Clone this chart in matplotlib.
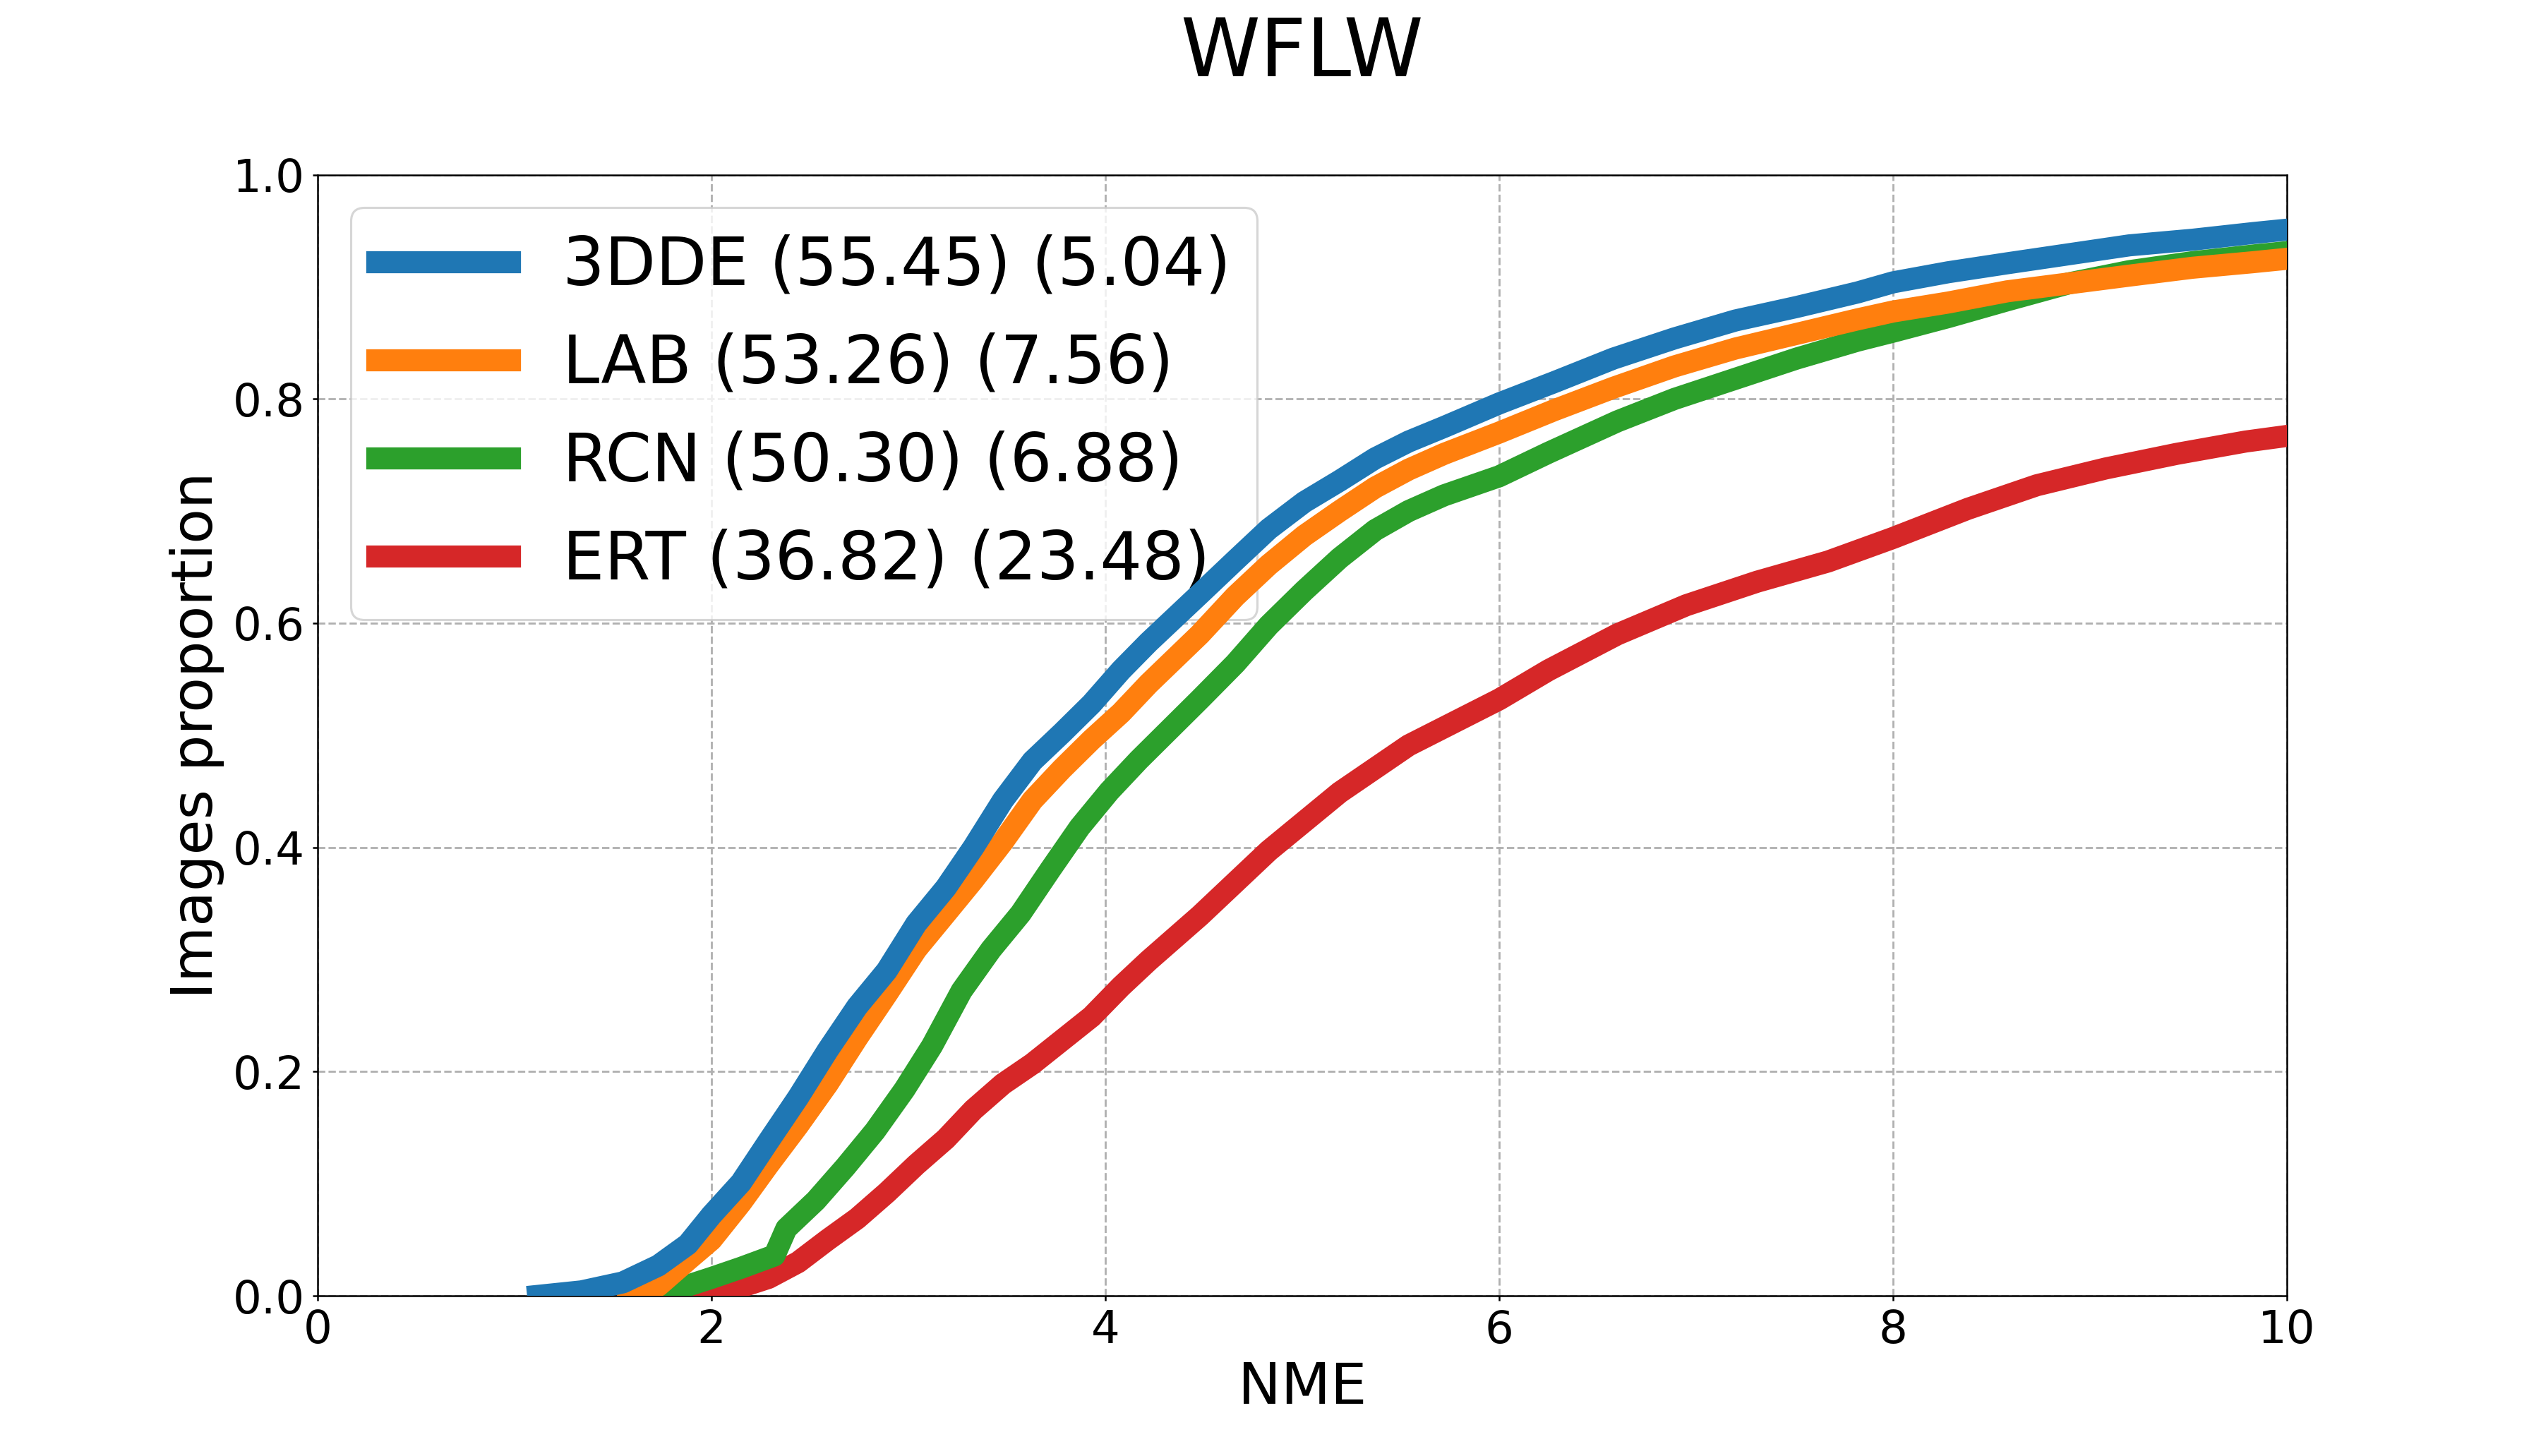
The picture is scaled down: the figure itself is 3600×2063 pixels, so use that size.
import matplotlib
matplotlib.use("Agg")
import matplotlib.pyplot as plt

# ---- data ----
labels = ["3DDE (55.45) (5.04)", "LAB (53.26) (7.56)", "RCN (50.30) (6.88)", "ERT (36.82) (23.48)"]

x_3dde = [1.12, 1.34, 1.55, 1.73, 1.88, 2.0, 2.15, 2.29, 2.44, 2.59, 2.74, 2.89, 3.04, 3.19, 3.33, 3.48,
          3.63, 3.78, 3.93, 4.08, 4.22, 4.48, 4.66, 4.83, 5.01, 5.19, 5.37, 5.54, 5.72, 6.0, 6.28, 6.58,
          6.89, 7.2, 7.51, 7.82, 8.0, 8.28, 8.58, 8.89, 9.2, 9.52, 9.83, 10.0]
y_3dde = [0.0, 0.004, 0.012, 0.027, 0.046, 0.072, 0.101, 0.138, 0.177, 0.219, 0.258, 0.29, 0.332, 0.364,
          0.40, 0.442, 0.477, 0.502, 0.528, 0.558, 0.583, 0.626, 0.656, 0.684, 0.708, 0.727, 0.747, 0.762,
          0.775, 0.796, 0.815, 0.836, 0.854, 0.870, 0.882, 0.895, 0.904, 0.913, 0.921, 0.929, 0.937, 0.942,
          0.948, 0.951]

x_lab = [1.58, 1.73, 1.88, 2.0, 2.15, 2.29, 2.44, 2.59, 2.74, 2.89, 3.04, 3.19, 3.33, 3.48, 3.63, 3.78,
         3.93, 4.08, 4.22, 4.48, 4.66, 4.83, 5.01, 5.19, 5.37, 5.54, 5.72, 6.0, 6.28, 6.58, 6.89, 7.2,
         7.51, 7.82, 8.0, 8.28, 8.58, 8.89, 9.2, 9.52, 9.83, 10.0]
y_lab = [0.0, 0.009, 0.032, 0.05, 0.083, 0.117, 0.152, 0.189, 0.23, 0.269, 0.309, 0.341, 0.371, 0.405,
         0.442, 0.47, 0.496, 0.52, 0.546, 0.59, 0.624, 0.652, 0.678, 0.700, 0.721, 0.737, 0.751, 0.770,
         0.790, 0.810, 0.829, 0.845, 0.858, 0.871, 0.878, 0.886, 0.896, 0.903, 0.910, 0.917, 0.922, 0.925]

x_rcn = [1.58, 1.79, 2.0, 2.15, 2.32, 2.38, 2.53, 2.68, 2.83, 2.98, 3.12, 3.27, 3.42, 3.57, 3.72, 3.87,
         4.02, 4.17, 4.48, 4.66, 4.83, 5.01, 5.19, 5.37, 5.54, 5.72, 6.0, 6.25, 6.6, 6.89, 7.2, 7.51,
         7.82, 8.0, 8.28, 8.58, 8.89, 9.2, 9.52, 9.83, 10.0]
y_rcn = [0.0, 0.004, 0.016, 0.025, 0.036, 0.06, 0.085, 0.115, 0.147, 0.184, 0.223, 0.272, 0.309, 0.341,
         0.38, 0.418, 0.45, 0.478, 0.532, 0.564, 0.598, 0.629, 0.658, 0.683, 0.700, 0.714, 0.731, 0.752,
         0.780, 0.800, 0.818, 0.836, 0.852, 0.860, 0.873, 0.888, 0.903, 0.914, 0.922, 0.928, 0.931]

x_ert = [1.72, 1.9, 2.02, 2.15, 2.29, 2.44, 2.59, 2.74, 2.89, 3.04, 3.19, 3.33, 3.48, 3.63, 3.78, 3.93,
         4.08, 4.22, 4.48, 4.83, 5.19, 5.54, 6.0, 6.25, 6.6, 6.95, 7.31, 7.67, 8.0, 8.38, 8.73, 9.08,
         9.44, 9.79, 10.0]
y_ert = [0.0, 0.002, 0.004, 0.008, 0.016, 0.03, 0.05, 0.069, 0.092, 0.117, 0.14, 0.166, 0.189, 0.207,
         0.228, 0.249, 0.276, 0.299, 0.339, 0.397, 0.449, 0.491, 0.532, 0.558, 0.59, 0.616, 0.637, 0.655,
         0.676, 0.702, 0.723, 0.738, 0.751, 0.762, 0.767]

colors = ["#1f77b4", "#ff7f0e", "#2ca02c", "#d62728"]
x_ticks = [0, 2, 4, 6, 8, 10]
y_ticks = [0.0, 0.2, 0.4, 0.6, 0.8, 1.0]

# ---- figure ----
DPI = 225
fig = plt.figure(figsize=(3600 / DPI, 2063 / DPI), dpi=DPI)
ax = fig.add_subplot(111)
fig.subplots_adjust(left=0.125, right=0.9, bottom=0.11, top=0.88)

series = [(x_3dde, y_3dde), (x_lab, y_lab), (x_rcn, y_rcn), (x_ert, y_ert)]
handles = [None] * 4
# drawn in reverse order so that 3DDE lies on top
for i in reversed(range(4)):
    xs, ys = series[i]
    (h,) = ax.plot(xs, ys, color=colors[i], linewidth=10, label=labels[i], zorder=3)
    handles[i] = h

ax.set_xlim(0, 10)
ax.set_ylim(0, 1)
ax.set_xticks(x_ticks)
ax.set_yticks(y_ticks)
ax.set_xticklabels([str(t) for t in x_ticks])
ax.set_yticklabels([f"{t:.1f}" for t in y_ticks])
ax.tick_params(axis="both", labelsize=20.5, length=2.2, width=0.8)
ax.grid(True, linestyle="--", color="#b0b0b0", linewidth=0.9)
ax.set_axisbelow(True)

ax.set_xlabel("NME", fontsize=26)
ax.set_ylabel("Images proportion", fontsize=26)
ax.set_title("WFLW", fontsize=36.5, pad=44.8)

leg = ax.legend(handles, labels, loc="upper left", fontsize=30)
leg.set_zorder(2)

fig.savefig("out.png", dpi=DPI)
